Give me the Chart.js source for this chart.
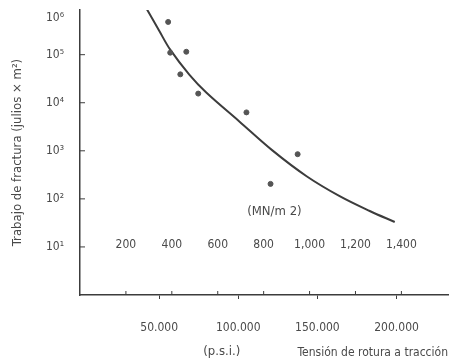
<!DOCTYPE html>
<html>
<head>
<meta charset="utf-8">
<script src="https://cdn.jsdelivr.net/npm/chart.js@4.4.1/dist/chart.umd.min.js"></script>
<style>
  body { margin: 0; background: #fff; }
  canvas { display: block; }
</style>
</head>
<body>
<canvas id="chart" width="458" height="364"></canvas>
<script>
'use strict';

// measured points: tensile stress (MN/m2) and work of fracture (J/m2)
const pointStress = [384, 393, 463, 437, 515, 725, 948, 830];
const pointWork = [480000, 110000, 115000, 39000, 15500, 6300, 850, 205];

// fitted curve
const curveStress = [288, 345, 393, 476, 550, 694, 838, 987, 1131, 1262, 1371];
const curveWork = [942000, 314000, 127000, 38500, 16300, 4080, 1020, 296, 114, 56, 33];

// axis ticks
const mpaTicks = [200, 400, 600, 800, 1000, 1200, 1400];
const mpaLabels = ['200', '400', '600', '800', '1,000', '1,200', '1,400'];
const psiTicks = [50000, 100000, 150000, 200000];
const psiLabels = ['50.000', '100.000', '150.000', '200.000'];
const workTicks = [10, 100, 1000, 10000, 100000];
const workLabels = ['10¹', '10²', '10³', '10⁴', '10⁵'];
const workTopLabel = '10⁶';

const FONT = "'Liberation Sans Narrow', 'DejaVu Sans Condensed', 'Roboto Condensed', sans-serif";
const TEXT = '#4a4a4a';
const INK = '#3c3c3c';

const MPA_MAX = 1603;
const PSI_PER_MPA = 145.038;
const WORK_MAX = 850000; // the drawn axis stops a little short of 10^6

const toXY = (xs, ys) => xs.map((x, i) => ({ x: x, y: ys[i] }));

// extra marks and loose labels of the old figure
const extras = {
  id: 'extras',
  afterDraw(chart) {
    const ctx = chart.ctx;
    const x = chart.scales.x;
    const x2 = chart.scales.x2;
    const y = chart.scales.y;
    const area = chart.chartArea;
    ctx.save();
    ctx.strokeStyle = INK;
    ctx.lineWidth = 1;
    // small ticks pointing up for MN/m2
    mpaTicks.forEach(v => {
      const px = x.getPixelForValue(v);
      ctx.beginPath();
      ctx.moveTo(px, area.bottom);
      ctx.lineTo(px, area.bottom - 4);
      ctx.stroke();
    });
    // small inner ticks on the y axis
    workTicks.forEach(v => {
      const py = y.getPixelForValue(v);
      ctx.beginPath();
      ctx.moveTo(area.left, py);
      ctx.lineTo(area.left + 5, py);
      ctx.stroke();
    });
    ctx.fillStyle = TEXT;
    ctx.textBaseline = 'middle';
    ctx.font = '12px ' + FONT;
    ctx.textAlign = 'right';
    ctx.fillText(workTopLabel, area.left - 16, area.top + 8);
    ctx.textAlign = 'center';
    ctx.font = '13px ' + FONT;
    ctx.fillText('(MN/m 2)', x.getPixelForValue(847), y.getPixelForValue(54));
    ctx.fillText('(p.s.i.)', x2.getPixelForValue(89600), 352);
    ctx.restore();
  }
};

const chart = new Chart(document.getElementById('chart'), {
  type: 'scatter',
  data: {
    datasets: [{
      label: 'Datos',
      data: toXY(pointStress, pointWork),
      backgroundColor: '#555',
      borderColor: '#555',
      pointRadius: 2.5,
      pointHoverRadius: 2.5
    }, {
      label: 'Curva',
      data: toXY(curveStress, curveWork),
      showLine: true,
      borderColor: INK,
      borderWidth: 2,
      pointRadius: 0,
      tension: 0.35
    }]
  },
  options: {
    responsive: false,
    animation: false,
    layout: { padding: { left: 0, right: 10, top: 10, bottom: 0 } },
    plugins: {
      legend: { display: false },
      tooltip: { enabled: false }
    },
    scales: {
      x: {
        type: 'linear',
        position: { y: 17 },
        min: 0,
        max: MPA_MAX,
        afterBuildTicks: s => { s.ticks = mpaTicks.map(v => ({ value: v })); },
        grid: { display: false, drawTicks: false },
        border: { display: false },
        ticks: {
          padding: 2,
          color: TEXT,
          font: { family: FONT, size: 12 },
          maxRotation: 0,
          callback: (v) => mpaLabels[mpaTicks.indexOf(v)]
        }
      },
      x2: {
        type: 'linear',
        position: 'bottom',
        min: 0,
        max: MPA_MAX * PSI_PER_MPA,
        afterBuildTicks: s => { s.ticks = psiTicks.map(v => ({ value: v })); },
        afterFit: s => { s.height = 69; },
        grid: { drawOnChartArea: false, tickLength: 4, color: INK },
        border: { display: true, color: INK, width: 1.5 },
        ticks: {
          padding: 22,
          color: TEXT,
          font: { family: FONT, size: 12 },
          maxRotation: 0,
          callback: (v) => psiLabels[psiTicks.indexOf(v)]
        },
        title: {
          display: true,
          text: 'Tensión de rotura a tracción',
          align: 'end',
          color: TEXT,
          font: { family: FONT, size: 12 },
          padding: { top: 0, bottom: 4 }
        }
      },
      y: {
        type: 'logarithmic',
        min: 1,
        max: WORK_MAX,
        afterBuildTicks: s => { s.ticks = workTicks.map(v => ({ value: v })); },
        afterFit: s => { s.width = 80; },
        grid: { drawOnChartArea: false, drawTicks: true, tickLength: 14, color: 'rgba(0,0,0,0)' },
        border: { display: true, color: INK, width: 1.5 },
        ticks: {
          padding: 2,
          color: TEXT,
          font: { family: FONT, size: 12 },
          callback: (v) => workLabels[workTicks.indexOf(v)]
        },
        title: {
          display: true,
          text: 'Trabajo de fractura (julios × m²)',
          color: TEXT,
          font: { family: FONT, size: 13 },
          padding: { top: 10, bottom: 0 }
        }
      }
    }
  },
  plugins: [extras]
});
</script>
</body>
</html>
